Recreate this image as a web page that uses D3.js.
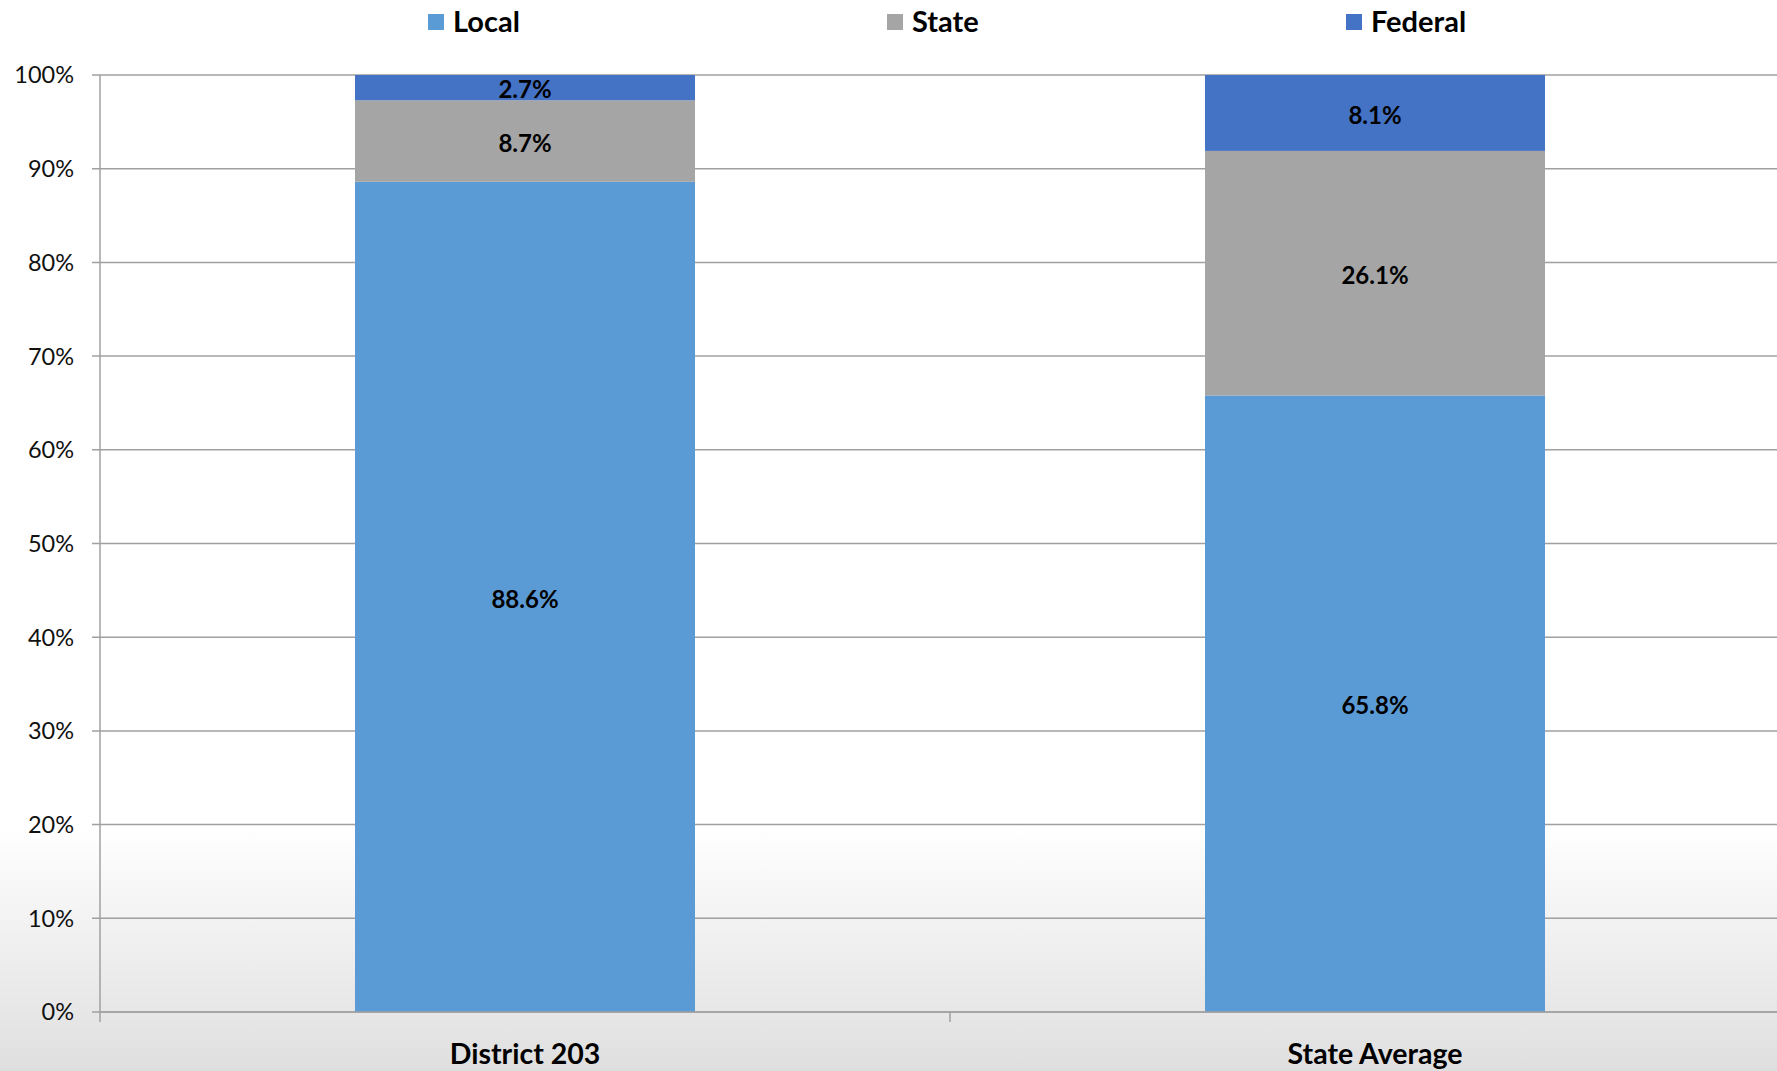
<!DOCTYPE html>
<html>
<head>
<meta charset="utf-8">
<script src="https://cdn.jsdelivr.net/npm/d3@7"></script>
<style>
  body { margin: 0; background: #fff; }
  svg { display: block; font-family: Lato, "Open Sans", sans-serif; }
</style>
</head>
<body>
<div id="chart"></div>
<script>
// data
var categories = ["District 203", "State Average"];
var seriesNames = ["Local", "State", "Federal"];
var localValues = [88.6, 65.8];
var stateValues = [8.7, 26.1];
var federalValues = [2.7, 8.1];
var yTicks = [0, 10, 20, 30, 40, 50, 60, 70, 80, 90, 100];

var colors = { "Local": "#5b9bd5", "State": "#a5a5a5", "Federal": "#4472c4" };

var width = 1777, height = 1071;
var plotLeft = 100, plotTop = 75, plotBottom = 1012;

var rows = categories.map(function(c, i) {
    return { cat: c, Local: localValues[i], State: stateValues[i], Federal: federalValues[i] };
});

var svg = d3.select("#chart").append("svg")
    .attr("width", width)
    .attr("height", height);

// background: white fading to light grey toward the bottom
var grad = svg.append("defs").append("linearGradient")
    .attr("id", "bg").attr("x1", 0).attr("y1", 0).attr("x2", 0).attr("y2", 1);
grad.append("stop").attr("offset", "0%").attr("stop-color", "#ffffff");
grad.append("stop").attr("offset", (825 / height * 100) + "%").attr("stop-color", "#ffffff");
grad.append("stop").attr("offset", "100%").attr("stop-color", "#dfdfdf");
svg.append("rect").attr("width", width).attr("height", height).attr("fill", "url(#bg)");

var x = d3.scaleBand()
    .domain(categories)
    .range([plotLeft, plotLeft + 1700])
    .paddingInner(0.6)
    .paddingOuter(0.3);

var y = d3.scaleLinear()
    .domain([0, 100])
    .range([plotBottom, plotTop]);

// gridlines + y labels
var grid = svg.append("g");
grid.selectAll("line")
    .data(yTicks)
    .enter().append("line")
    .attr("x1", plotLeft - 8)
    .attr("x2", width)
    .attr("y1", function(d) { return y(d); })
    .attr("y2", function(d) { return y(d); })
    .attr("stroke", "#a0a0a0")
    .attr("stroke-width", 1.5);

grid.selectAll("text")
    .data(yTicks)
    .enter().append("text")
    .attr("x", plotLeft - 26)
    .attr("y", function(d) { return y(d); })
    .attr("dy", "0.36em")
    .attr("text-anchor", "end")
    .attr("font-size", 23.5)
    .attr("fill", "#111")
    .text(function(d) { return d + "%"; });

// stacked bars
var stack = d3.stack().keys(seriesNames);
var layers = stack(rows);

var layer = svg.append("g").selectAll("g")
    .data(layers)
    .enter().append("g")
    .attr("fill", function(d) { return colors[d.key]; });

layer.selectAll("rect")
    .data(function(d) { return d; })
    .enter().append("rect")
    .attr("x", function(d) { return x(d.data.cat); })
    .attr("width", x.bandwidth())
    .attr("y", function(d) { return y(d[1]); })
    .attr("height", function(d) { return y(d[0]) - y(d[1]); });

layer.selectAll("text")
    .data(function(d) { return d; })
    .enter().append("text")
    .attr("x", function(d) { return x(d.data.cat) + x.bandwidth() / 2; })
    .attr("y", function(d) { return (y(d[0]) + y(d[1])) / 2 + 2; })
    .attr("dy", "0.36em")
    .attr("text-anchor", "middle")
    .attr("font-size", 24)
    .attr("font-weight", "bold")
    .attr("fill", "#000")
    .text(function(d) { return (d[1] - d[0]).toFixed(1) + "%"; });

// axes lines
svg.append("line")
    .attr("x1", plotLeft).attr("x2", plotLeft)
    .attr("y1", plotTop).attr("y2", plotBottom + 10)
    .attr("stroke", "#a0a0a0").attr("stroke-width", 1.5);

svg.append("line")
    .attr("x1", plotLeft).attr("x2", width)
    .attr("y1", plotBottom).attr("y2", plotBottom)
    .attr("stroke", "#a0a0a0").attr("stroke-width", 1.5);

// category separators
svg.append("g").selectAll("line")
    .data(categories.slice(1))
    .enter().append("line")
    .attr("x1", function(d) { return x(d) - x.step() * x.paddingInner() / 2; })
    .attr("x2", function(d) { return x(d) - x.step() * x.paddingInner() / 2; })
    .attr("y1", plotBottom).attr("y2", plotBottom + 10)
    .attr("stroke", "#a0a0a0").attr("stroke-width", 1.5);

// category labels
svg.append("g").selectAll("text")
    .data(categories)
    .enter().append("text")
    .attr("x", function(d) { return x(d) + x.bandwidth() / 2; })
    .attr("y", 1054)
    .attr("dy", "0.36em")
    .attr("text-anchor", "middle")
    .attr("font-size", 28.5)
    .attr("font-weight", "bold")
    .attr("fill", "#000")
    .text(function(d) { return d; });

// legend
var legendX = [428, 887, 1346];
var legend = svg.append("g").selectAll("g")
    .data(seriesNames)
    .enter().append("g")
    .attr("transform", function(d, i) { return "translate(" + legendX[i] + ",22)"; });

legend.append("rect")
    .attr("x", 0).attr("y", -8)
    .attr("width", 16).attr("height", 16)
    .attr("fill", function(d) { return colors[d]; });

legend.append("text")
    .attr("x", 25)
    .attr("dy", "0.36em")
    .attr("font-size", 29)
    .attr("font-weight", "bold")
    .attr("fill", "#000")
    .text(function(d) { return d; });
</script>
</body>
</html>
